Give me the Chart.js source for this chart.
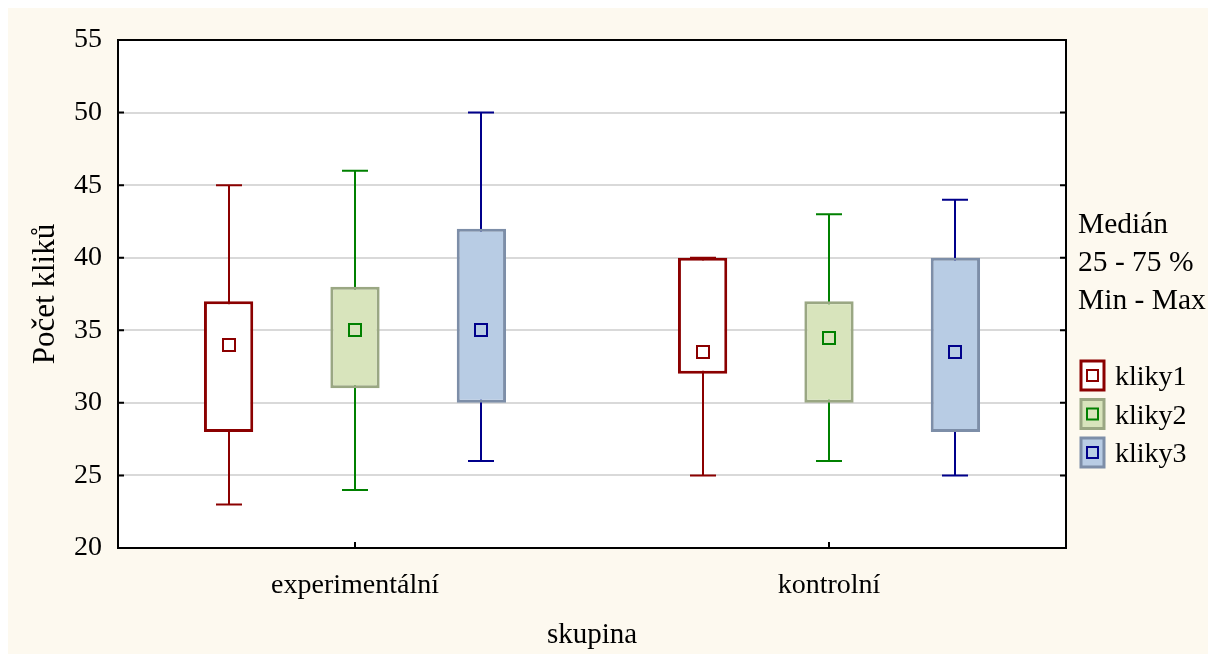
<!DOCTYPE html>
<html><head><meta charset="utf-8">
<script src="https://cdn.jsdelivr.net/npm/chart.js@4.4.1/dist/chart.umd.min.js"></script>
<style>html,body{margin:0;padding:0;background:#fff}#wrap{width:1208px;height:654px;position:relative}</style>
</head><body><div id="wrap"><canvas id="c" width="1208" height="654"></canvas></div>
<script>
const categories = ['experimentální', 'kontrolní'];
const seriesNames = ['kliky1', 'kliky2', 'kliky3'];
const minValues = [[23, 25], [24, 26], [26, 25]];
const q1Values = [[28, 32], [31, 30], [30, 28]];
const medianValues = [[34, 33.5], [35, 34.5], [35, 33.5]];
const q3Values = [[37, 40], [38, 37], [42, 40]];
const maxValues = [[45, 40], [46, 43], [50, 44]];
const yTickValues = [20, 25, 30, 35, 40, 45, 50, 55];
const legendHeader = ['Medián', '25 - 75 %', 'Min - Max'];
const xTitle = 'skupina';
const yTitle = 'Počet kliků';

const fills = ['#ffffff', '#d8e4bc', '#b8cce4'];
const borders = ['#8b0000', '#9aa783', '#7d8ea8'];
const lineCols = ['#8b0000', '#008000', '#00008b'];
const FAM = '"Liberation Serif", "Times New Roman", serif';

const boxPlugin = {
  id: 'boxplot',
  beforeDraw(chart) {
    const ctx = chart.ctx, a = chart.chartArea;
    ctx.save();
    ctx.fillStyle = '#fdf9ef';
    ctx.fillRect(8, 8, chart.width - 8, chart.height - 8);
    ctx.fillStyle = '#ffffff';
    ctx.fillRect(a.left, a.top, a.right - a.left, a.bottom - a.top);
    ctx.restore();
  },
  beforeDatasetsDraw(chart) {
    const ctx = chart.ctx, y = chart.scales.y;
    ctx.save();
    seriesNames.forEach((s, i) => {
      const meta = chart.getDatasetMeta(i);
      meta.data.forEach((bar, j) => {
        const x = Math.round(bar.x);
        const yMin = y.getPixelForValue(minValues[i][j]);
        const yMax = y.getPixelForValue(maxValues[i][j]);
        ctx.strokeStyle = lineCols[i];
        ctx.lineWidth = 2;
        ctx.beginPath();
        ctx.moveTo(x, yMin); ctx.lineTo(x, yMax);
        ctx.moveTo(x - 13, yMin); ctx.lineTo(x + 13, yMin);
        ctx.moveTo(x - 13, yMax); ctx.lineTo(x + 13, yMax);
        ctx.stroke();
      });
    });
    ctx.restore();
  },
  afterDatasetsDraw(chart) {
    const ctx = chart.ctx, y = chart.scales.y, xs = chart.scales.x, a = chart.chartArea;
    ctx.save();
    seriesNames.forEach((s, i) => {
      const meta = chart.getDatasetMeta(i);
      meta.data.forEach((bar, j) => {
        const x = Math.round(bar.x);
        const ym = Math.round(y.getPixelForValue(medianValues[i][j]));
        ctx.strokeStyle = lineCols[i];
        ctx.lineWidth = 2;
        ctx.strokeRect(x - 6, ym - 6, 12, 12);
      });
    });
    ctx.strokeStyle = '#000';
    ctx.lineWidth = 2;
    ctx.strokeRect(a.left, a.top, a.right - a.left, a.bottom - a.top);
    ctx.beginPath();
    yTickValues.forEach(v => {
      const py = y.getPixelForValue(v);
      ctx.moveTo(a.left, py); ctx.lineTo(a.left + 6, py);
      ctx.moveTo(a.right, py); ctx.lineTo(a.right - 6, py);
    });
    categories.forEach((c, j) => {
      const px = xs.getPixelForValue(j);
      ctx.moveTo(px, a.bottom); ctx.lineTo(px, a.bottom - 6);
    });
    ctx.stroke();
    ctx.restore();
  },
  afterDraw(chart) {
    const ctx = chart.ctx, a = chart.chartArea;
    ctx.save();
    ctx.fillStyle = '#000';
    ctx.textBaseline = 'alphabetic';
    ctx.textAlign = 'center';
    ctx.font = '29px ' + FAM;
    ctx.fillText(xTitle, (a.left + a.right) / 2, 643);
    ctx.save();
    ctx.translate(54, (a.top + a.bottom) / 2);
    ctx.rotate(-Math.PI / 2);
    ctx.font = '31px ' + FAM;
    ctx.fillText(yTitle, 0, 0);
    ctx.restore();
    ctx.textAlign = 'left';
    ctx.font = '29.5px ' + FAM;
    legendHeader.forEach((t, k) => ctx.fillText(t, 1078, 233 + k * 38));
    ctx.font = '28px ' + FAM;
    seriesNames.forEach((s, i) => {
      const top = 361 + i * 38.5;
      ctx.fillStyle = fills[i];
      ctx.fillRect(1081, top, 23, 29);
      ctx.strokeStyle = borders[i];
      ctx.lineWidth = 3;
      ctx.strokeRect(1081, top, 23, 29);
      ctx.strokeStyle = lineCols[i];
      ctx.lineWidth = 2;
      ctx.strokeRect(1087, top + 9, 11, 11);
      ctx.fillStyle = '#000';
      ctx.fillText(s, 1115, top + 24);
    });
    ctx.restore();
  }
};

const datasets = seriesNames.map((s, i) => ({
  label: s,
  data: categories.map((c, j) => [q1Values[i][j], q3Values[i][j]]),
  backgroundColor: fills[i],
  borderColor: borders[i],
  borderWidth: 3,
  borderSkipped: false,
  categoryPercentage: 0.8,
  barPercentage: 0.39
}));

new Chart(document.getElementById('c'), {
  type: 'bar',
  data: { labels: categories, datasets },
  plugins: [boxPlugin],
  options: {
    responsive: false,
    animation: false,
    devicePixelRatio: 1,
    layout: { padding: { top: 40, right: 142, left: 0, bottom: 0 } },
    plugins: { legend: { display: false }, tooltip: { enabled: false }, title: { display: false } },
    scales: {
      x: {
        grid: { display: false, drawTicks: false },
        border: { display: false },
        ticks: { color: '#000', font: { family: FAM, size: 28 }, padding: 21, maxRotation: 0 },
        afterFit: s => { s.height = 106; }
      },
      y: {
        min: 20, max: 55,
        grid: {
          drawTicks: false,
          lineWidth: 2,
          color: c => (c.tick && (c.tick.value === 20 || c.tick.value === 55)) ? 'rgba(0,0,0,0)' : '#d9d9d9'
        },
        border: { display: false },
        afterBuildTicks: s => { s.ticks = yTickValues.map(v => ({ value: v })); },
        ticks: { color: '#000', font: { family: FAM, size: 28 }, padding: 16 },
        afterFit: s => { s.width = 118; }
      }
    }
  }
});
</script></body></html>
